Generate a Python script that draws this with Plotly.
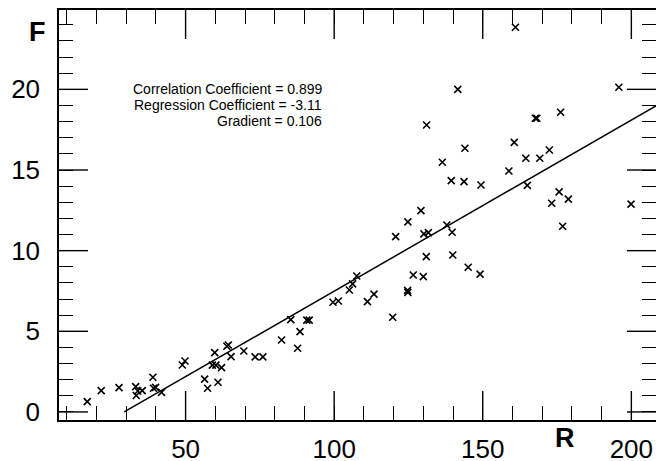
import plotly.graph_objects as go

# Scatter data (R, F)
R = [16.9, 21.6, 27.6, 33.2, 33.9, 33.4, 35.4, 39.0, 39.2, 39.9, 41.9,
     48.9, 49.8, 56.4, 57.4, 60.9, 59.8, 59.0, 60.2, 62.1, 63.9, 64.4,
     65.3, 69.6, 73.4, 76.0, 82.3, 87.7, 88.5, 85.4, 90.8, 91.6, 99.6,
     101.4, 105.1, 106.2, 107.6, 111.2, 113.4, 119.7, 124.7, 124.8, 126.6,
     130.0, 131.0, 120.7, 130.2, 131.7, 124.8, 129.2, 137.9, 139.7, 139.9,
     145.1, 149.1, 131.1, 141.6, 144.0, 136.4, 139.4, 143.7, 149.4, 160.6,
     158.8, 164.5, 169.2, 172.4, 165.0, 167.7, 168.2, 176.2, 161.0, 195.8,
     175.7, 173.2, 178.8, 176.9, 199.9]
F = [0.64, 1.32, 1.51, 1.57, 1.30, 1.02, 1.32, 2.15, 1.47, 1.52, 1.21,
     2.91, 3.16, 2.03, 1.47, 1.84, 3.68, 2.90, 2.90, 2.75, 4.07, 4.15,
     3.43, 3.78, 3.41, 3.41, 4.46, 3.95, 4.98, 5.72, 5.69, 5.69, 6.80,
     6.88, 7.56, 7.94, 8.43, 6.84, 7.30, 5.87, 7.54, 7.41, 8.49,
     8.39, 9.63, 10.87, 11.04, 11.12, 11.78, 12.48, 11.59, 11.14, 9.73,
     8.97, 8.54, 17.79, 20.0, 16.35, 15.48, 14.34, 14.28, 14.07, 16.71,
     14.94, 15.73, 15.73, 16.24, 14.05, 18.21, 18.21, 18.58, 23.85, 20.13,
     13.64, 12.94, 13.19, 11.51, 12.88]

correlation = 0.899
intercept = -3.11
gradient = 0.106

x_range = [7.4, 208.3]
y_range = [-0.5, 24.92]
x_major, x_minor = 50, 10
y_major, y_minor = 5, 1

W, H = 656, 461
L, Rm, T, B = 59, 0, 10, 41
pw, ph = W - L - Rm, H - T - B

# regression line: from F = 0 up to the right edge
x0 = -intercept / gradient
x1 = 215.0
line_x = [x0, x1]
line_y = [intercept + gradient * v for v in line_x]

# long (major) ticks on all four sides, built from the axis ranges and tick spacing
major_len_px = 29
ux = (x_range[1] - x_range[0]) / pw   # data units per pixel along R
uy = (y_range[1] - y_range[0]) / ph   # data units per pixel along F
tx, ty = [], []
v = x_major * int(x_range[0] // x_major + 1)
while v < x_range[1]:
    tx += [v, v, None, v, v, None]
    ty += [y_range[0], y_range[0] + major_len_px * uy, None,
           y_range[1], y_range[1] - major_len_px * uy, None]
    v += x_major
v = y_major * int(-(-y_range[0] // y_major))
while v < y_range[1]:
    tx += [x_range[0], x_range[0] + major_len_px * ux, None,
           x_range[1], x_range[1] - major_len_px * ux, None]
    ty += [v, v, None, v, v, None]
    v += y_major

fig = go.Figure()
fig.add_trace(go.Scatter(x=tx, y=ty, mode="lines", line=dict(color="black", width=1.4),
                         showlegend=False, hoverinfo="skip", connectgaps=False,
                         cliponaxis=False))
fig.add_trace(go.Scatter(x=line_x, y=line_y, mode="lines",
                         line=dict(color="black", width=1.5),
                         showlegend=False, hoverinfo="skip"))
fig.add_trace(go.Scatter(x=R, y=F, mode="markers",
                         marker=dict(symbol="x-thin-open", size=7, color="black",
                                     line=dict(color="black", width=1.6)),
                         showlegend=False))

tick_font = dict(family="Liberation Sans, Arial, sans-serif", size=26, color="black")
common = dict(showgrid=False, zeroline=False, showline=True, linecolor="black",
              linewidth=1.5, tickcolor="black", tickwidth=1.3, tick0=0)
tick_only = dict(mirror="allticks", ticks="inside", showticklabels=False, **common)

fig.update_layout(
    template="none",
    # base axes: frame and tick labels
    xaxis=dict(range=x_range, dtick=x_major, ticks="", mirror=True, tickfont=tick_font,
               ticklabelstandoff=5, **common),
    yaxis=dict(range=y_range, dtick=y_major, ticks="", mirror=True, tickfont=tick_font,
               ticklabelstandoff=12, **common),
    # short (minor) ticks
    xaxis2=dict(range=x_range, dtick=x_minor, ticklen=14, overlaying="x", anchor="y2",
                side="bottom", **tick_only),
    yaxis2=dict(range=y_range, dtick=y_minor, ticklen=14, overlaying="y", anchor="x2",
                side="left", **tick_only),
)
# keep something on the overlay axes so they are always drawn
fig.data[1].update(xaxis="x2", yaxis="y2")


def px2paper(px, py):
    return (px - L) / pw, (H - B - py) / ph


ann = []
label_font = dict(family="Liberation Sans, Arial, sans-serif", size=27, color="black")
fx, fy = px2paper(37, 32)
ann.append(dict(text="<b>F</b>", x=fx, y=fy, xref="paper", yref="paper",
                xanchor="center", yanchor="middle", showarrow=False, font=label_font))
rx, ry = px2paper(565, 438)
ann.append(dict(text="<b>R</b>", x=rx, y=ry, xref="paper", yref="paper",
                xanchor="center", yanchor="middle", showarrow=False, font=label_font))

stats = [f"Correlation Coefficient = {correlation}",
         f"Regression Coefficient = {intercept}",
         f"Gradient = {gradient}"]
stat_font = dict(family="Liberation Sans, Arial, sans-serif", size=14, color="black")
for i, s in enumerate(stats):
    sx, sy = px2paper(324, 89 + 16 * i)
    ann.append(dict(text=s, x=sx, y=sy, xref="paper", yref="paper",
                    xanchor="right", yanchor="middle", showarrow=False, font=stat_font))

fig.update_layout(width=W, height=H, margin=dict(l=L, r=Rm, t=T, b=B),
                  paper_bgcolor="white", plot_bgcolor="white",
                  annotations=ann, showlegend=False)

fig.write_html("out.html")
